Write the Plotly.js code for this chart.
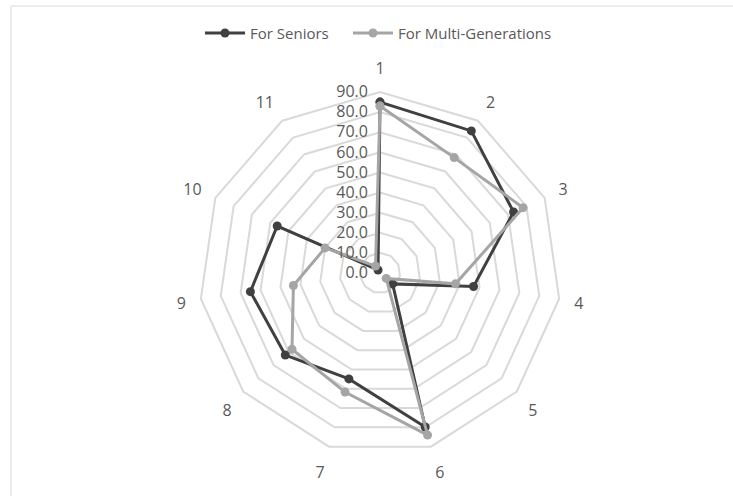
<!DOCTYPE html>
<html>
<head>
<meta charset="utf-8">
<script src="https://cdn.plot.ly/plotly-3.0.1.min.js"></script>
<style>html,body{margin:0;padding:0;background:#fff;}#chart{width:733px;height:496px;}</style>
</head>
<body>
<div id="chart"></div>
<script>
const categories = ["1","2","3","4","5","6","7","8","9","10","11"];
const seniors = [85.0, 84.0, 73.0, 47.0, 8.3, 79.8, 54.9, 62.3, 65.1, 56.2, 1.8];
const multiGen = [83.0, 68.2, 78.2, 37.9, 4.1, 84.0, 61.7, 57.9, 43.5, 30.0, 4.1];
const radialTicks = [0,10,20,30,40,50,60,70,80,90];

const close = a => a.concat([a[0]]);
const cats = close(categories);

const traces = [
  {type:'scatterpolar', name:'For Seniors', r: close(seniors), theta: cats, mode:'lines+markers',
   line:{color:'#404040', width:3}, marker:{color:'#404040', size:9}, legend:'legend'},
  {type:'scatterpolar', name:'For Multi-Generations', r: close(multiGen), theta: cats, mode:'lines+markers',
   line:{color:'#a5a5a5', width:3}, marker:{color:'#a5a5a5', size:9}, legend:'legend2'}
];

const legendStyle = {orientation:'h', xanchor:'left', y:0.933, yanchor:'middle', itemwidth:40,
  bgcolor:'rgba(0,0,0,0)', font:{size:15, color:'#595959'}};

const layout = {
  width:733, height:496,
  margin:{l:0,r:0,t:0,b:0},
  paper_bgcolor:'#fff',
  font:{family:'Open Sans, Liberation Sans, sans-serif', size:15, color:'#595959'},
  showlegend:true,
  legend:Object.assign({}, legendStyle, {x:200/733}),
  legend2:Object.assign({}, legendStyle, {x:348/733}),
  polar:{
    domain:{x:[199/733, 561/733], y:[1-454/496, 1-92/496]},
    gridshape:'linear',
    bgcolor:'rgba(0,0,0,0)',
    angularaxis:{type:'category', direction:'clockwise', rotation:90, showgrid:false,
      showline:true, linecolor:'#d9d9d9', linewidth:2,
      ticks:'outside', ticklen:11, tickcolor:'rgba(0,0,0,0)', tickfont:{size:16, color:'#595959'}},
    radialaxis:{range:[0,90], tickvals:radialTicks, tickformat:'.1f', angle:90, tickangle:90,
      side:'counterclockwise', showline:false, ticks:'outside', ticklen:6, tickcolor:'rgba(0,0,0,0)',
      gridcolor:'#d9d9d9', gridwidth:2,
      tickfont:{size:16, color:'#595959'}}
  },
  shapes:[{type:'rect', xref:'paper', yref:'paper', x0:11/733, x1:1.05, y0:-0.05, y1:1-6/496,
    line:{color:'#d9d9d9', width:1}, fillcolor:'rgba(0,0,0,0)'}]
};

Plotly.newPlot('chart', traces, layout, {displayModeBar:false});
</script>
</body>
</html>
